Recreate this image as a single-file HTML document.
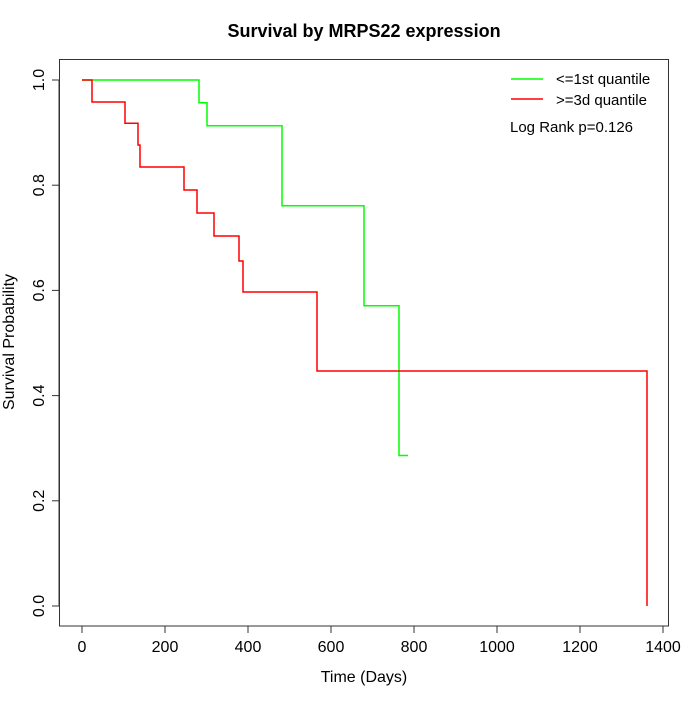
<!DOCTYPE html>
<html><head><style>body{margin:0;background:#fff}</style></head><body>
<svg width="700" height="700" xmlns="http://www.w3.org/2000/svg" font-family="Liberation Sans, sans-serif">
<rect width="700" height="700" fill="#fff"/>
<text x="364" y="37" font-size="18" font-weight="bold" text-anchor="middle">Survival by MRPS22 expression</text>
<rect x="59.5" y="59.5" width="609" height="566.5" fill="none" stroke="#333" stroke-width="1"/>
<g stroke="#333" stroke-width="1">
<line x1="82" y1="626" x2="663" y2="626"/>
<line x1="82" y1="626" x2="82" y2="633"/><line x1="165" y1="626" x2="165" y2="633"/><line x1="248" y1="626" x2="248" y2="633"/><line x1="331" y1="626" x2="331" y2="633"/><line x1="414" y1="626" x2="414" y2="633"/><line x1="497" y1="626" x2="497" y2="633"/><line x1="580" y1="626" x2="580" y2="633"/><line x1="663" y1="626" x2="663" y2="633"/>
<line x1="59" y1="80" x2="59" y2="606"/>
<line x1="52" y1="606" x2="59" y2="606"/><line x1="52" y1="500.8" x2="59" y2="500.8"/><line x1="52" y1="395.6" x2="59" y2="395.6"/><line x1="52" y1="290.4" x2="59" y2="290.4"/><line x1="52" y1="185.2" x2="59" y2="185.2"/><line x1="52" y1="80" x2="59" y2="80"/>
</g>
<g font-size="16" text-anchor="middle">
<text x="82" y="652">0</text><text x="165" y="652">200</text><text x="248" y="652">400</text><text x="331" y="652">600</text><text x="414" y="652">800</text><text x="497" y="652">1000</text><text x="580" y="652">1200</text><text x="663" y="652">1400</text>
<text x="364" y="682">Time (Days)</text>
<text transform="translate(44,606) rotate(-90)">0.0</text>
<text transform="translate(44,500.8) rotate(-90)">0.2</text>
<text transform="translate(44,395.6) rotate(-90)">0.4</text>
<text transform="translate(44,290.4) rotate(-90)">0.6</text>
<text transform="translate(44,185.2) rotate(-90)">0.8</text>
<text transform="translate(44,80) rotate(-90)">1.0</text>
<text transform="translate(14,342) rotate(-90)">Survival Probability</text>
</g>
<polyline fill="none" stroke="#00ff00" stroke-width="1.5" points="82,80 199,80 199,102.7 207,102.7 207,125.7 282,125.7 282,205.7 364,205.7 364,305.7 399,305.7 399,455.5 408,455.5"/>
<polyline fill="none" stroke="#ff0000" stroke-width="1.5" points="82,80 92,80 92,102 125,102 125,123.3 138,123.3 138,145 140,145 140,167 184,167 184,190 197,190 197,213 214,213 214,236 239,236 239,261 243,261 243,292 317,292 317,371 647,371 647,606"/>
<line x1="511" y1="79" x2="543" y2="79" stroke="#00ff00" stroke-width="1.5"/>
<line x1="511" y1="99" x2="543" y2="99" stroke="#ff0000" stroke-width="1.5"/>
<g font-size="15">
<text x="556" y="84">&lt;=1st quantile</text>
<text x="556" y="105">&gt;=3d quantile</text>
<text x="510" y="132">Log Rank p=0.126</text>
</g>
</svg>
</body></html>
